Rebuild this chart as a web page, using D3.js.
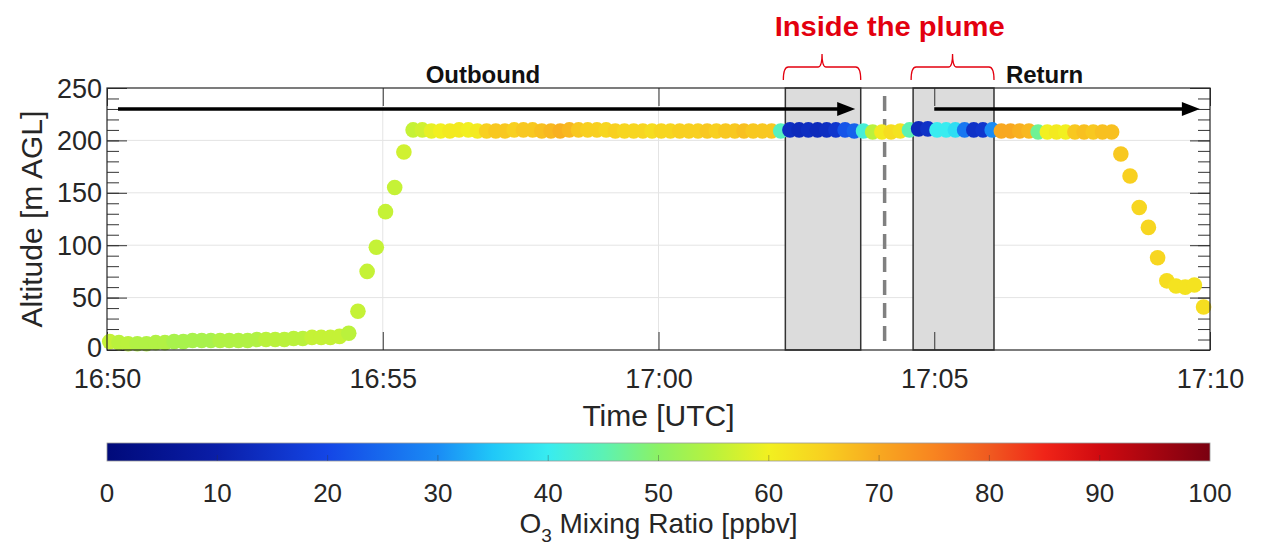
<!DOCTYPE html>
<html>
<head>
<meta charset="utf-8">
<script src="https://cdn.jsdelivr.net/npm/d3@7"></script>
<style>
body { margin: 0; background: #fff; }
text { font-family: "Liberation Sans", Arial, sans-serif; fill: #262626; }
</style>
</head>
<body>
<script>
// seconds after 16:50:00 UTC (one sample every 10 s)
var SECONDS = [
  3, 13, 23, 33, 43, 53, 63, 73, 83, 93,
  103, 113, 123, 133, 143, 153, 163, 173, 183, 193,
  203, 213, 223, 233, 243, 253, 263, 273, 283, 293,
  303, 313, 323, 333, 343, 353, 363, 373, 383, 393,
  403, 413, 423, 433, 443, 453, 463, 473, 483, 493,
  503, 513, 523, 533, 543, 553, 563, 573, 583, 593,
  603, 613, 623, 633, 643, 653, 663, 673, 683, 693,
  703, 713, 723, 733, 743, 753, 763, 773, 783, 793,
  803, 813, 823, 833, 843, 853, 863, 873, 883, 893,
  903, 913, 923, 933, 943, 953, 963, 973, 983, 993,
  1003, 1013, 1023, 1033, 1043, 1053, 1063, 1073, 1083, 1093,
  1103, 1113, 1123, 1133, 1143, 1153, 1163, 1173, 1183, 1193
];

// altitude [m AGL]
var ALTITUDE = [
  8, 7, 6, 6, 6, 7, 7, 8, 8, 9,
  9, 9, 9, 9, 9, 9, 10, 10, 10, 10,
  11, 11, 12, 12, 12, 13, 16, 37, 75, 98,
  132, 155, 189, 210, 210, 209, 209, 209, 210, 210,
  209, 209, 209, 209, 210, 210, 210, 209, 209, 209,
  210, 210, 210, 210, 210, 209, 209, 209, 209, 209,
  209, 209, 209, 209, 209, 209, 209, 209, 209, 209,
  209, 209, 209, 209, 210, 210, 210, 210, 210, 210,
  210, 209, 209, 208, 208, 208, 209, 210, 211, 211,
  210, 210, 210, 210, 210, 210, 210, 209, 209, 209,
  209, 208, 208, 208, 208, 208, 208, 208, 208, 208,
  187, 166, 136, 117, 88, 66, 61, 60, 62, 41
];

// O3 mixing ratio [ppbv]
var O3 = [
  56, 55, 55, 54, 54, 54, 54, 53, 53, 53,
  53, 53, 54, 54, 54, 54, 54, 55, 55, 55,
  55, 55, 56, 56, 56, 56, 55, 56, 56, 56,
  56, 56, 57, 56, 57, 59, 60, 61, 61, 60,
  61, 65, 66, 66, 65, 66, 66, 67, 68, 69,
  68, 66, 65, 65, 64, 65, 64, 64, 64, 63,
  64, 64, 65, 65, 65, 66, 65, 66, 66, 67,
  66, 66, 66, 44, 14, 13, 14, 13, 14, 16,
  22, 24, 42, 55, 61, 63, 62, 45, 13, 15,
  40, 40, 38, 27, 15, 16, 30, 70, 70, 69,
  68, 47, 60, 61, 60, 66, 67, 66, 67, 67,
  66, 65, 64, 64, 64, 63, 62, 62, 62, 63
];

var X_TICKS = ["16:50", "16:55", "17:00", "17:05", "17:10"];
var Y_TICKS = [0, 50, 100, 150, 200, 250];
var CBAR_TICKS = [0, 10, 20, 30, 40, 50, 60, 70, 80, 90, 100];

// plume boxes and dashed turn line, seconds after 16:50
var PLUME_START = [738, 877];
var PLUME_END = [820, 965];
var TURN_TIME = 846;

// flight direction arrows
var ARROW_LABEL = ["Outbound", "Return"];
var ARROW_FROM = [12, 900];
var ARROW_TO = [814, 1189];
var ARROW_TEXT_AT = [409, 1020];
var ARROW_ALT = 230;

// colormap (jet-like, as in the colorbar)
var CMAP_STOPS = [0, 10, 20, 30, 35, 40, 45, 50, 55, 60, 65, 70, 75, 80, 85, 90, 100];
var CMAP_COLORS = ["#000a7a", "#0a1ea8", "#1446e6", "#1a8cf5", "#20c8f8", "#38ecf0", "#5cf2b4", "#8cf264",
  "#baf23c", "#f2f020", "#f8d020", "#f8a820", "#f88420", "#f05a20", "#f02418", "#d00a10", "#7a0010"];

var W = 1261, H = 546;
var plot = { left: 107, right: 1210, top: 88, bottom: 350 };
var cbar = { left: 107, right: 1210, top: 443, bottom: 461 };

var parseHM = d3.utcParse("%H:%M");
var t0 = parseHM("16:50");
function toDate(s) { return new Date(t0.getTime() + s * 1000); }

var x = d3.scaleUtc().domain([parseHM(X_TICKS[0]), parseHM(X_TICKS[X_TICKS.length - 1])]).range([plot.left, plot.right]);
var y = d3.scaleLinear().domain([0, 250]).range([plot.bottom, plot.top]);
var color = d3.scaleLinear().domain(CMAP_STOPS).range(CMAP_COLORS).clamp(true);
var cx = d3.scaleLinear().domain([0, 100]).range([cbar.left, cbar.right]);

var svg = d3.select("body").append("svg").attr("width", W).attr("height", H);

// grid
svg.append("g").selectAll("line").data(Y_TICKS.slice(1, -1)).enter().append("line")
  .attr("x1", plot.left).attr("x2", plot.right)
  .attr("y1", function (d) { return y(d); }).attr("y2", function (d) { return y(d); })
  .attr("stroke", "#e4e4e4").attr("stroke-width", 1);
svg.append("g").selectAll("line").data(X_TICKS.slice(1, -1)).enter().append("line")
  .attr("y1", plot.top).attr("y2", plot.bottom)
  .attr("x1", function (d) { return x(parseHM(d)); }).attr("x2", function (d) { return x(parseHM(d)); })
  .attr("stroke", "#e4e4e4").attr("stroke-width", 1);

// plume boxes
svg.append("g").selectAll("rect").data(PLUME_START).enter().append("rect")
  .attr("x", function (d) { return x(toDate(d)); })
  .attr("width", function (d, i) { return x(toDate(PLUME_END[i])) - x(toDate(d)); })
  .attr("y", plot.top).attr("height", plot.bottom - plot.top)
  .attr("fill", "#dcdcdc").attr("stroke", "#333").attr("stroke-width", 1.5);

// dashed line between the two passes
svg.append("line")
  .attr("x1", x(toDate(TURN_TIME))).attr("x2", x(toDate(TURN_TIME)))
  .attr("y1", plot.top + 8).attr("y2", plot.bottom - 8)
  .attr("stroke", "#808080").attr("stroke-width", 3.5).attr("stroke-dasharray", "15,8");

// axes (ticks inside the box, like matlab)
var fmt = d3.utcFormat("%H:%M");
var xTickDates = X_TICKS.map(parseHM);

var yMajor = d3.axisLeft(y).tickValues(Y_TICKS).tickSize(-20).tickSizeOuter(0).tickPadding(5);
var gy = svg.append("g").attr("transform", "translate(" + plot.left + ",0)").call(yMajor);
gy.selectAll("text").style("font-size", "27px")
  .attr("dy", function (d) { return d === 0 ? "0.24em" : "0.34em"; });
svg.append("g").attr("transform", "translate(" + plot.left + ",0)")
  .call(d3.axisLeft(y).ticks(25).tickSize(-12).tickSizeOuter(0).tickFormat(""));
svg.append("g").attr("transform", "translate(" + plot.right + ",0)")
  .call(d3.axisRight(y).tickValues(Y_TICKS).tickSize(-20).tickSizeOuter(0).tickFormat(""));
svg.append("g").attr("transform", "translate(" + plot.right + ",0)")
  .call(d3.axisRight(y).ticks(25).tickSize(-12).tickSizeOuter(0).tickFormat(""));

var gx = svg.append("g").attr("transform", "translate(0," + plot.bottom + ")")
  .call(d3.axisBottom(x).tickValues(xTickDates).tickFormat(fmt).tickSize(-18).tickSizeOuter(0).tickPadding(12));
gx.selectAll("text").style("font-size", "27px").attr("dy", "0.95em");
svg.append("g").attr("transform", "translate(0," + plot.top + ")")
  .call(d3.axisTop(x).tickValues(xTickDates).tickSize(-18).tickSizeOuter(0).tickFormat(""));

svg.selectAll(".domain").remove();
svg.selectAll(".tick line").attr("stroke", "#333");

// flight direction arrows
ARROW_LABEL.forEach(function (lab, i) {
  var xa = x(toDate(ARROW_FROM[i])), xb = x(toDate(ARROW_TO[i])), ya = y(ARROW_ALT);
  svg.append("line").attr("x1", xa).attr("x2", xb - 10).attr("y1", ya).attr("y2", ya)
    .attr("stroke", "#000").attr("stroke-width", 3.5);
  svg.append("path").attr("d", "M" + xb + "," + ya + "L" + (xb - 18) + "," + (ya - 7) + "L" + (xb - 18) + "," + (ya + 7) + "Z")
    .attr("fill", "#000");
  svg.append("text").attr("x", x(toDate(ARROW_TEXT_AT[i]))).attr("y", 83)
    .attr("text-anchor", "middle").style("font-size", "24px").style("font-weight", "bold")
    .style("fill", "#111").text(lab);
});

// the O3 points
svg.append("g").selectAll("circle").data(SECONDS).enter().append("circle")
  .attr("cx", function (d) { return x(toDate(d)); })
  .attr("cy", function (d, i) { return y(ALTITUDE[i]); })
  .attr("r", 7.8)
  .attr("fill", function (d, i) { return color(O3[i]); });

// frame
svg.append("rect").attr("x", plot.left).attr("y", plot.top)
  .attr("width", plot.right - plot.left).attr("height", plot.bottom - plot.top)
  .attr("fill", "none").attr("stroke", "#262626").attr("stroke-width", 1.2);

// axis titles
svg.append("text").attr("x", (plot.left + plot.right) / 2).attr("y", 426)
  .attr("text-anchor", "middle").style("font-size", "30px").text("Time [UTC]");
svg.append("text").attr("transform", "translate(42," + (plot.top + plot.bottom) / 2 + ") rotate(-90)")
  .attr("text-anchor", "middle").style("font-size", "30px").text("Altitude [m AGL]");

// "Inside the plume" annotation with red brackets
svg.append("text").attr("x", (x(toDate(PLUME_START[0])) + x(toDate(PLUME_END[1]))) / 2).attr("y", 36)
  .attr("text-anchor", "middle").style("font-size", "27px").style("font-weight", "bold")
  .attr("textLength", 230).attr("lengthAdjust", "spacingAndGlyphs")
  .style("fill", "#e3000f").text("Inside the plume");

svg.append("g").selectAll("path").data(PLUME_START).enter().append("path")
  .attr("d", function (d, i) {
    var a = x(toDate(d)) - 2, b = x(toDate(PLUME_END[i])), m = (a + b) / 2;
    return "M" + a + ",80 Q" + a + ",67 " + (a + 5) + ",67 L" + (m - 4) + ",67 Q" + m + ",67 " + m + ",54" +
      " Q" + m + ",67 " + (m + 4) + ",67 L" + (b - 5) + ",67 Q" + b + ",67 " + b + ",80";
  })
  .attr("fill", "none").attr("stroke", "#e3000f").attr("stroke-width", 1.3);

// colorbar
var defs = svg.append("defs");
var grad = defs.append("linearGradient").attr("id", "cbarGrad").attr("x1", "0%").attr("x2", "100%");
grad.selectAll("stop").data(CMAP_STOPS).enter().append("stop")
  .attr("offset", function (d) { return d + "%"; })
  .attr("stop-color", function (d, i) { return CMAP_COLORS[i]; });

svg.append("rect").attr("x", cbar.left).attr("y", cbar.top)
  .attr("width", cbar.right - cbar.left).attr("height", cbar.bottom - cbar.top)
  .attr("fill", "url(#cbarGrad)").attr("stroke", "#999").attr("stroke-width", 0.8);

svg.append("g").selectAll("line").data(CBAR_TICKS.slice(1, -1)).enter().append("line")
  .attr("x1", function (d) { return cx(d); }).attr("x2", function (d) { return cx(d); })
  .attr("y1", cbar.bottom - 6).attr("y2", cbar.bottom)
  .attr("stroke", "#333").attr("stroke-opacity", 0.35);

svg.append("g").selectAll("text").data(CBAR_TICKS).enter().append("text")
  .attr("x", function (d) { return cx(d); }).attr("y", 502)
  .attr("text-anchor", "middle").style("font-size", "26px").text(function (d) { return d; });

var lab = svg.append("text").attr("x", (cbar.left + cbar.right) / 2).attr("y", 533)
  .attr("text-anchor", "middle").style("font-size", "28px");
lab.append("tspan").text("O");
lab.append("tspan").attr("dy", 9).style("font-size", "19px").text("3");
lab.append("tspan").attr("dy", -9).text(" Mixing Ratio [ppbv]");
</script>
</body>
</html>
